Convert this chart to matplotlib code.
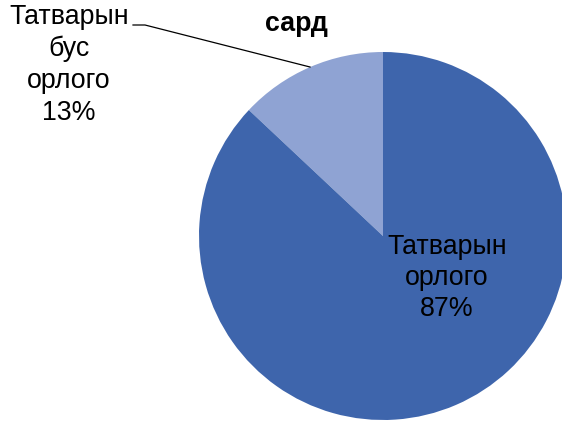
import matplotlib.pyplot as plt

plt.rcParams['font.family'] = ['Liberation Sans', 'DejaVu Sans']

# data
labels = ["Татварын\nбус\nорлого", "Татварын\nорлого"]
values = [13, 87]
colors = ["#8FA3D3", "#3E65AC"]
title = "сард"

fig = plt.figure(figsize=(5.62, 4.22), dpi=100)
ax = fig.add_axes([0, 0, 1, 1])

# pie in pixel-like coords (y up)
cx, cy, r = 383, 186, 184
ax.pie(values, colors=colors, startangle=90, counterclock=True,
       center=(cx, cy), radius=r, wedgeprops=dict(linewidth=0))
ax.set_xlim(0, 562)
ax.set_ylim(0, 422)
ax.set_aspect('equal')
ax.axis('off')

total = sum(values)
pct = [round(v * 100 / total) for v in values]

# small slice label, outside with leader line
ax.text(69, 357, "%s\n%d%%" % (labels[0], pct[0]), ha='center', va='center',
        fontsize=19.3, linespacing=1.28)
ax.plot([133, 145, 310], [397, 397, 355], color='black', lw=0.9)

# big slice label inside
ax.text(447, 144, "%s\n%d%%" % (labels[1], pct[1]), ha='center', va='center',
        fontsize=19.3, linespacing=1.25)

ax.text(296, 398, title, ha='center', va='center', fontsize=19.3, fontweight='bold')

fig.savefig("out.png", dpi=100)
